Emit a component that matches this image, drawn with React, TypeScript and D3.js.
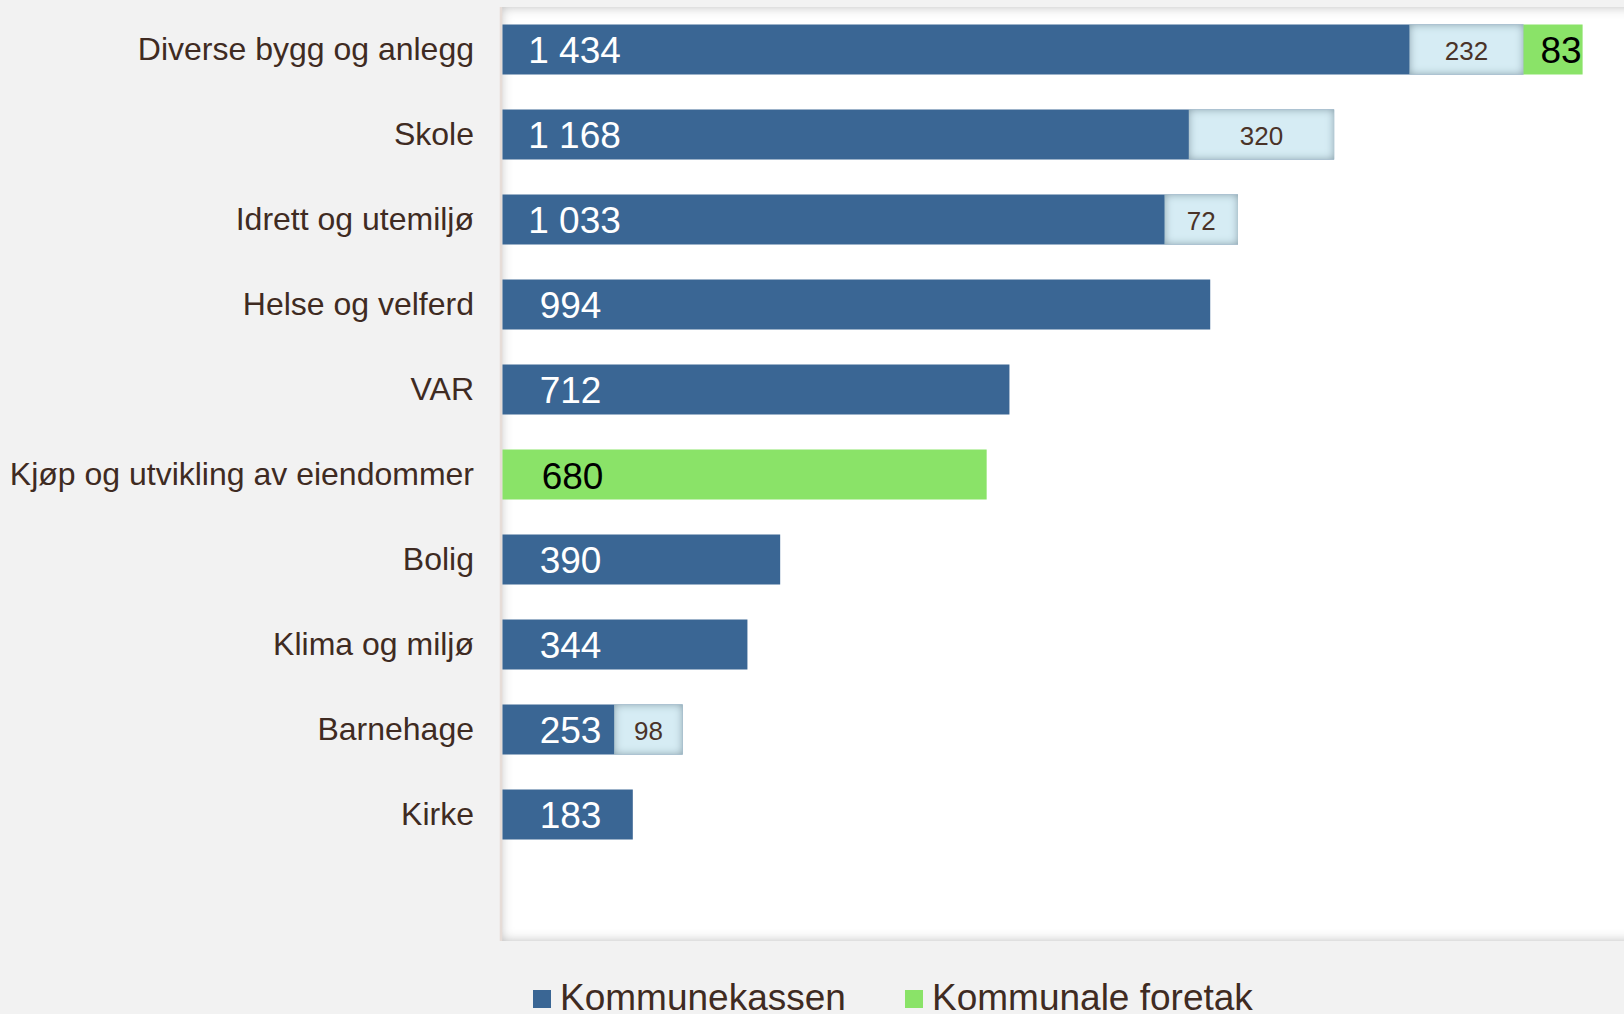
import * as d3 from "d3";

const categories = [
  "Diverse bygg og anlegg",
  "Skole",
  "Idrett og utemiljø",
  "Helse og velferd",
  "VAR",
  "Kjøp og utvikling av eiendommer",
  "Bolig",
  "Klima og miljø",
  "Barnehage",
  "Kirke",
];
// Kommunekassen, total per område
const kommunekassen = [1434, 1168, 1033, 994, 712, 0, 390, 344, 253, 183];
// lys del av kommunekassen-søylen (lengde lest fra bildet) og etiketten den har
const lysDel = [160, 204, 103, 0, 0, 0, 0, 0, 96, 0];
const lysEtikett = ["232", "320", "72", "", "", "", "", "", "98", ""];
// Kommunale foretak
const foretak = [83, 0, 0, 0, 0, 680, 0, 0, 0, 0];

const legendItems = [
  { label: "Kommunekassen", color: "#3a6694" },
  { label: "Kommunale foretak", color: "#8ae368" },
];

const width = 1624;
const height = 1014;
const blue = "#3a6694";
const green = "#8ae368";
const textColor = "#3f2b22";

const nb = d3.formatLocale({
  decimal: ",",
  thousands: " ",
  grouping: [3],
  currency: ["", " kr"],
});
const fmt = nb.format(",d");

const App = () => {
  const plot = { left: 502.5, top: 7, bottom: 941 };

  const xScale = d3
    .scaleLinear()
    .domain([0, 1580])
    .range([plot.left, plot.left + 1580 * 0.712]);

  const yScale = d3
    .scaleBand()
    .domain(categories)
    .range([plot.top, plot.top + 85 * categories.length])
    .paddingInner(35 / 85)
    .paddingOuter(17.5 / 85);

  const bw = yScale.bandwidth();

  return (
    <svg
      width={width}
      height={height}
      style={{ position: "absolute", left: 0, top: 0, display: "block" }}
      fontFamily="Arial, 'Liberation Sans', sans-serif"
    >
      <defs>
        <filter id="plotInset" x="-5%" y="-5%" width="110%" height="110%">
          <feFlood floodColor="#b5b5b5" />
          <feComposite in2="SourceAlpha" operator="out" />
          <feGaussianBlur stdDeviation="6" />
          <feComposite in2="SourceAlpha" operator="in" result="shadow" />
          <feMerge>
            <feMergeNode in="SourceGraphic" />
            <feMergeNode in="shadow" />
          </feMerge>
        </filter>
        <filter id="lysInset" x="-30%" y="-40%" width="160%" height="180%">
          <feFlood floodColor="#7d95a0" />
          <feComposite in2="SourceAlpha" operator="out" />
          <feGaussianBlur stdDeviation="4" />
          <feComposite in2="SourceAlpha" operator="in" result="shadow" />
          <feMerge>
            <feMergeNode in="SourceGraphic" />
            <feMergeNode in="shadow" />
          </feMerge>
        </filter>
      </defs>

      <rect width={width} height={height} fill="#f2f2f2" />

      {/* plot area */}
      <rect
        x={plot.left - 1.5}
        y={plot.top}
        width={1300}
        height={plot.bottom - plot.top}
        fill="#ffffff"
        filter="url(#plotInset)"
      />
      <line
        x1={plot.left - 1.5}
        x2={plot.left - 1.5}
        y1={plot.top}
        y2={plot.bottom}
        stroke="#e6dcd7"
        strokeWidth={2.5}
      />

      {categories.map((cat, i) => {
        const y = yScale(cat)!;
        const cy = y + bw / 2;
        const total = kommunekassen[i];
        return (
          <g key={cat}>
            <text
              x={474}
              y={cy}
              dy="0.34em"
              textAnchor="end"
              fontSize={32}
              fill={textColor}
            >
              {cat}
            </text>

            {total > 0 && (
              <rect
                x={xScale(0)}
                y={y}
                width={xScale(total) - xScale(0)}
                height={bw}
                fill={blue}
              />
            )}
            {lysDel[i] > 0 && (
              <>
                <rect
                  x={xScale(total - lysDel[i])}
                  y={y}
                  width={xScale(total) - xScale(total - lysDel[i])}
                  height={bw}
                  fill="#d6ecf4"
                  filter="url(#lysInset)"
                />
                <text
                  x={(xScale(total - lysDel[i]) + xScale(total)) / 2}
                  y={cy}
                  dy="0.41em"
                  textAnchor="middle"
                  fontSize={26}
                  fill="#4a3328"
                >
                  {lysEtikett[i]}
                </text>
              </>
            )}
            {foretak[i] > 0 && (
              <rect
                x={xScale(total)}
                y={y}
                width={xScale(total + foretak[i]) - xScale(total)}
                height={bw}
                fill={green}
              />
            )}

            {total > 0 && (
              <text
                x={xScale(0) + (total >= 1000 ? 72 : 68)}
                y={cy}
                dy="0.36em"
                textAnchor="middle"
                fontSize={37}
                fill="#ffffff"
              >
                {fmt(total)}
              </text>
            )}
            {foretak[i] > 0 &&
              (total > 0 ? (
                <text
                  x={xScale(total + foretak[i]) - 1}
                  y={cy}
                  dy="0.36em"
                  textAnchor="end"
                  fontSize={37}
                  fill="#000000"
                >
                  {fmt(foretak[i])}
                </text>
              ) : (
                <text
                  x={xScale(0) + 70}
                  y={cy}
                  dy="0.4em"
                  textAnchor="middle"
                  fontSize={37}
                  fill="#000000"
                >
                  {fmt(foretak[i])}
                </text>
              ))}
          </g>
        );
      })}

      {/* legend */}
      <g>
        {legendItems.map((d, i) => {
          const x0 = i === 0 ? 533 : 905;
          return (
            <g key={d.label}>
              <rect x={x0} y={990} width={18} height={18} fill={d.color} />
              <text x={x0 + 27} y={1010} fontSize={37} fill={textColor}>
                {d.label}
              </text>
            </g>
          );
        })}
      </g>
    </svg>
  );
};

export default App;
